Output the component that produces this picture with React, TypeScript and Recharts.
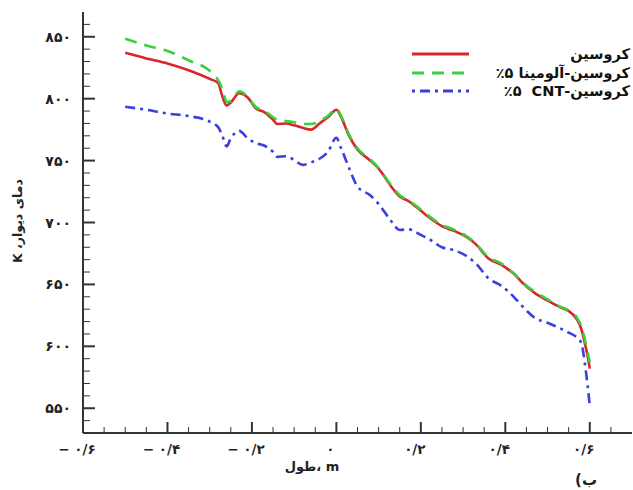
import { LineChart, Line, XAxis, YAxis, Legend } from 'recharts';

// طول (m)
const lengths = [
  -0.5, -0.45, -0.4, -0.35, -0.3, -0.28, -0.27, -0.26, -0.25, -0.23, -0.21, -0.19, -0.17,
  -0.15, -0.14, -0.12, -0.1, -0.08, -0.06, -0.04, -0.02, 0, 0.01, 0.03, 0.05, 0.08, 0.1,
  0.13, 0.15, 0.17, 0.2, 0.22, 0.25, 0.28, 0.31, 0.33, 0.36, 0.39, 0.42, 0.44, 0.47, 0.5,
  0.53, 0.55, 0.57, 0.58, 0.59, 0.595, 0.6,
];

// دمای دیوار (K)
const kerosene = [
  837, 832.5, 828.5, 823, 816, 812.5, 802, 794.5, 797, 804.5, 801, 792, 789,
  783, 779.5, 780, 778.5, 776.5, 775, 780, 785, 791, 786, 770, 759, 750, 743.5,
  729, 721, 717.5, 709.5, 704, 697, 693, 688, 682.5, 671, 666, 658.5, 651.5, 643, 637,
  631.5, 628.5, 621.5, 614, 600, 592, 582,
];
const alumina = [
  848.5, 843, 838.5, 831, 822.5, 815, 808, 797.5, 798, 806, 801.5, 793, 790,
  785, 783, 782, 781, 779.5, 779.5, 782, 786, 792, 787, 771, 760, 751, 744,
  730, 722, 718, 710.5, 705, 698, 694, 688.5, 683, 672, 667, 659, 652, 644, 638,
  632, 629, 623, 616, 603, 595, 587,
];
const cnt = [
  793.5, 791, 788, 786, 781.5, 777, 770, 761.5, 768, 774, 768, 764, 762,
  757, 753, 753.5, 750.5, 746.5, 748.5, 751.5, 757, 768.5, 761, 744, 729, 722, 715,
  701, 694, 694.5, 690, 686.5, 680, 677.5, 672.5, 667, 655, 649, 640, 632.5, 623, 619,
  614.5, 611, 607, 602.5, 582, 568, 552,
];

const xTicks = [
  -0.6, -0.55, -0.5, -0.45, -0.4, -0.35, -0.3, -0.25, -0.2, -0.15, -0.1, -0.05, 0,
  0.05, 0.1, 0.15, 0.2, 0.25, 0.3, 0.35, 0.4, 0.45, 0.5, 0.55, 0.6, 0.65,
];
const xMajor = [-0.6, -0.4, -0.2, 0, 0.2, 0.4, 0.6];
const yTicks = [
  540, 550, 560, 570, 580, 590, 600, 610, 620, 630, 640, 650, 660, 670, 680, 690, 700,
  710, 720, 730, 740, 750, 760, 770, 780, 790, 800, 810, 820, 830, 840, 850, 860,
];
const yMajor = [550, 600, 650, 700, 750, 800, 850];

const series = [
  { key: 'kerosene', name: 'کروسین', color: '#d8262b', dash: undefined as string | undefined },
  { key: 'alumina', name: 'کروسین-آلومینا ۵٪', color: '#3ccf3c', dash: '12 8' },
  { key: 'cnt', name: 'کروسین-CNT\u200f\u00a0\u00a0٪۵', color: '#3b3fdc', dash: '10 5 3 5' },
];

const data = lengths.map((x, i) => ({ x, kerosene: kerosene[i], alumina: alumina[i], cnt: cnt[i] }));

const faFont = '"DejaVu Sans", sans-serif';
const fa = (s: string) => s.replace(/\d/g, (d) => '۰۱۲۳۴۵۶۷۸۹'[+d]).replace('.', '/');

function XTick(props: any) {
  const { x, y, payload } = props;
  const v = payload.value;
  const major = xMajor.includes(v);
  const label = v === 0 ? '۰' : (v < 0 ? '− ' : '') + fa(Math.abs(v).toFixed(1));
  return (
    <g>
      <line x1={x} x2={x} y1={y} y2={y - (major ? 11 : 6)} stroke="#333" strokeWidth={major ? 2 : 1} />
      {major && (
        <text x={x - 6} y={y + 21} textAnchor="middle" fontSize={13.5} fontWeight="bold" fill="#222" fontFamily={faFont}>
          {label}
        </text>
      )}
    </g>
  );
}

function YTick(props: any) {
  const { x, y, payload } = props;
  const v = payload.value;
  const major = yMajor.includes(v);
  return (
    <g>
      <line x1={x} x2={x + (major ? 12 : 7)} y1={y} y2={y} stroke="#333" strokeWidth={major ? 2 : 1} />
      {major && (
        <text x={x - 12} y={y + 5} textAnchor="end" fontSize={14} fontWeight="bold" fill="#222" fontFamily={faFont}>
          {fa(String(v))}
        </text>
      )}
    </g>
  );
}

function LegendBox() {
  return (
    <div style={{ fontFamily: faFont, fontWeight: 'bold', fontSize: 14.5, color: '#111' }}>
      {series.map((s) => (
        <div key={s.key} style={{ display: 'flex', alignItems: 'center', justifyContent: 'space-between', height: 18.5 }}>
          <svg width={57} height={6} style={{ display: 'block' }}>
            <line x1={0} x2={57} y1={3} y2={3} stroke={s.color} strokeWidth={3} strokeDasharray={s.dash}
              strokeDashoffset={s.key === 'cnt' ? 15 : 0} />
          </svg>
          <span dir="rtl" style={{ whiteSpace: 'nowrap' }}>{s.name}</span>
        </div>
      ))}
    </div>
  );
}

export default function App() {
  return (
    <div style={{ position: 'absolute', left: 0, top: 0, background: '#fff' }}>
      <LineChart width={633} height={490} data={data} margin={{ top: 12, right: 1, bottom: 0, left: 0 }}>
        <XAxis
          dataKey="x"
          type="number"
          domain={[-0.6, 0.7]}
          ticks={xTicks}
          interval={0}
          height={57}
          tickSize={0}
          tickMargin={0}
          tickLine={false}
          tick={<XTick />}
          axisLine={{ stroke: '#333', strokeWidth: 2 }}
          label={{
            content: () => (
              <g fontFamily={faFont} fontWeight="bold" fill="#222">
                <text x={312} y={471} textAnchor="middle" fontSize={13}>{'طول\u200e، m'}</text>
                <text x={586} y={485} textAnchor="middle" fontSize={15}>(ب</text>
              </g>
            ),
          }}
        />
        <YAxis
          type="number"
          domain={[530, 870]}
          ticks={yTicks}
          interval={0}
          width={83}
          tickSize={0}
          tickMargin={0}
          tickLine={false}
          tick={<YTick />}
          axisLine={{ stroke: '#333', strokeWidth: 2 }}
          label={{
            content: () => (
              <text x={22} y={221} transform="rotate(-90 22 221)" textAnchor="middle" fontSize={12.5}
                fontWeight="bold" fill="#222" fontFamily={faFont} direction="rtl" style={{ direction: 'rtl' }}>
                دمای دیوار، K
              </text>
            ),
          }}
        />
        <Legend
          layout="horizontal"
          verticalAlign="middle"
          align="center"
          content={() => <LegendBox />}
          wrapperStyle={{ left: 412, top: 45, width: 218, height: 56 }}
        />
        {series.map((s) => (
          <Line
            key={s.key}
            dataKey={s.key}
            name={s.name}
            type="monotone"
            stroke={s.color}
            strokeWidth={2.6}
            strokeDasharray={s.dash}
            dot={false}
            activeDot={false}
            isAnimationActive={false}
          />
        ))}
      </LineChart>
    </div>
  );
}
